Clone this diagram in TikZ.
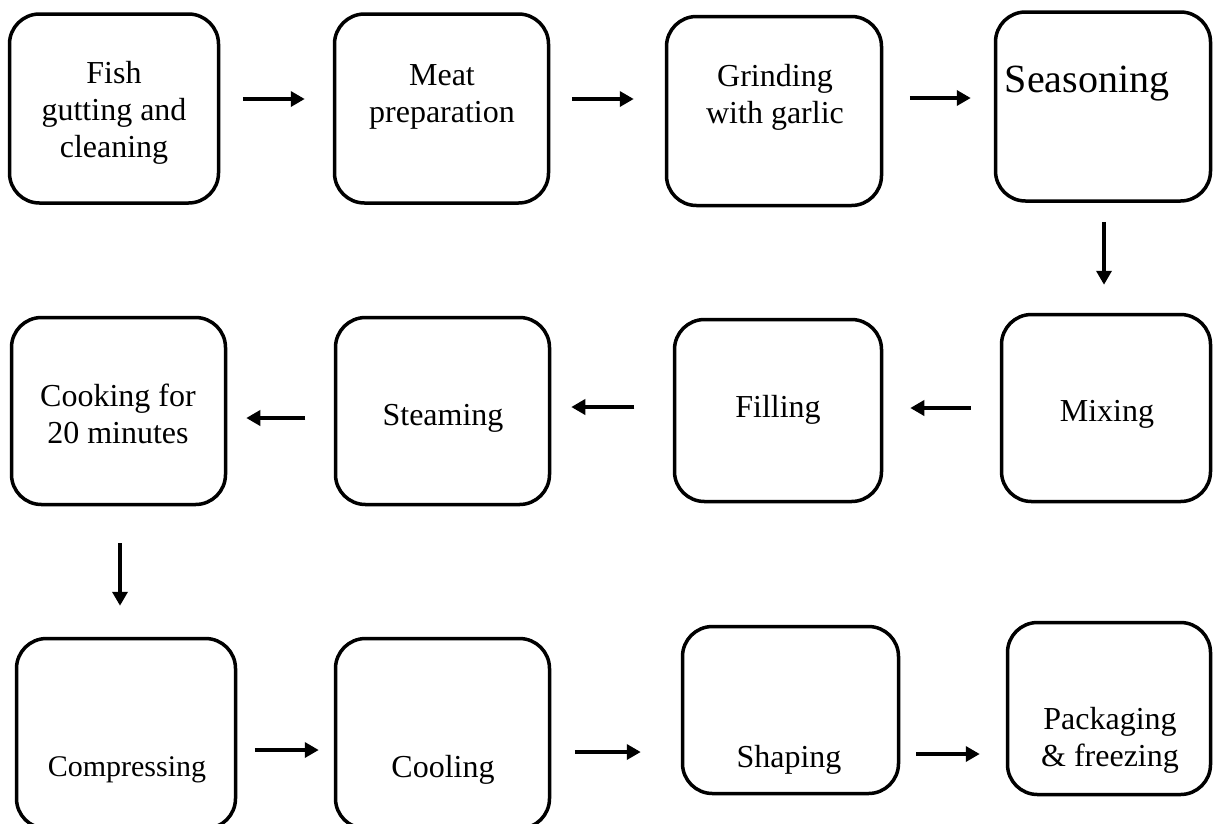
\documentclass[tikz,border=0pt]{standalone}
\usepackage{fontspec}
\setmainfont{Liberation Serif}
\usetikzlibrary{arrows.meta}
\tikzset{
  procbox/.style={draw=black, line width=3.5pt, rounded corners=30pt, inner sep=0pt},
  txt/.style={align=center, inner sep=0pt, font=\fontsize{32}{37}\selectfont},
  arr/.style={line width=3.8pt, -{Triangle[length=14pt,width=15pt]}}
}
\begin{document}
\begin{tikzpicture}[x=1pt,y=-1pt]
\useasboundingbox (0,0) rectangle (1215,823);
\clip (0,0) rectangle (1215,823);
% row 1
\node[procbox, minimum width=209pt, minimum height=189pt] (b1) at (114,108.5) {};
\node[procbox, minimum width=214pt, minimum height=189pt] (b2) at (441.5,108.5) {};
\node[procbox, minimum width=215pt, minimum height=189pt] (b3) at (774,111) {};
\node[procbox, minimum width=215pt, minimum height=189pt] (b4) at (1103,106.5) {};
% row 2
\node[procbox, minimum width=214pt, minimum height=187pt] (b5) at (118.5,411) {};
\node[procbox, minimum width=214pt, minimum height=187pt] (b6) at (442.5,411) {};
\node[procbox, minimum width=207pt, minimum height=182pt] (b7) at (778,410.5) {};
\node[procbox, minimum width=209pt, minimum height=187pt] (b8) at (1106,408) {};
% row 3
\node[procbox, minimum width=219pt, minimum height=190pt] (b9) at (126,733.5) {};
\node[procbox, minimum width=214pt, minimum height=190pt] (b10) at (442.5,733.5) {};
\node[procbox, minimum width=216pt, minimum height=167pt] (b11) at (790.5,710) {};
\node[procbox, minimum width=203pt, minimum height=172pt] (b12) at (1109,708.5) {};
% texts
\node[txt] (t1) at (114,113) {Fish\\gutting and\\cleaning};
\node[txt] (t2) at (442,97) {Meat\\preparation};
\node[txt] (t3) at (775,97) {Grinding\\with garlic};
\node[txt, font=\fontsize{40}{46}\selectfont] (t4) at (1087,84) {Seasoning};
\node[txt] (t5) at (118,414) {Cooking for\\20 minutes};
\node[txt] (t6) at (443,418) {Steaming};
\node[txt] (t7) at (778,410) {Filling};
\node[txt] (t8) at (1107,414) {Mixing};
\node[txt, font=\fontsize{30}{35}\selectfont] (t9) at (127,770) {Compressing};
\node[txt] (t10) at (443,770) {Cooling};
\node[txt] (t11) at (789,760) {Shaping};
\node[txt] (t12) at (1110,740) {Packaging\\\& freezing};
% arrows row 1
\draw[arr] ([shift={(22.5,-9.5)}]b1.east) -- ([shift={(-28,-9.5)}]b2.west);
\draw[arr] ([shift={(21.5,-9.5)}]b2.east) -- ([shift={(-31,-12)}]b3.west);
\draw[arr] ([shift={(26.5,-13)}]b3.east) -- ([shift={(-23,-8.5)}]b4.west);
% down arrows
\draw[arr] ([shift={(1,19)}]b4.south) -- ([shift={(-2,-28)}]b8.north);
\draw[arr] ([shift={(1.5,37)}]b5.south) -- ([shift={(-6,-31)}]b9.north);
% arrows row 2
\draw[arr] ([shift={(-28.5,7)}]b6.west) -- ([shift={(19,7)}]b5.east);
\draw[arr] ([shift={(-38.5,-3.5)}]b7.west) -- ([shift={(20,-4)}]b6.east);
\draw[arr] ([shift={(-29,0)}]b8.west) -- ([shift={(27,-2.5)}]b7.east);
% arrows row 3
\draw[arr] ([shift={(17.5,16.5)}]b9.east) -- ([shift={(-15,16.5)}]b10.west);
\draw[arr] ([shift={(23.5,18.5)}]b10.east) -- ([shift={(-40,42)}]b11.west);
\draw[arr] ([shift={(16,44)}]b11.east) -- ([shift={(-26,45.5)}]b12.west);
\end{tikzpicture}
\end{document}
